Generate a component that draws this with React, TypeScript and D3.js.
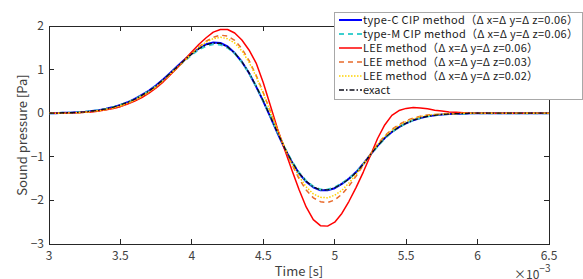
import * as d3 from 'd3'

// time axis in ms (plotted with a x10^-3 multiplier), one sample every 0.05 ms
const timeMs = d3.range(71).map(i => +(3 + i * 0.05).toFixed(2))

const exact = [
  0.00, 0.00, 0.01, 0.01, 0.02, 0.03, 0.05, 0.07, 0.10, 0.14,
  0.19, 0.25, 0.32, 0.41, 0.51, 0.63, 0.77, 0.92, 1.07, 1.22,
  1.36, 1.48, 1.57, 1.61, 1.60, 1.52, 1.38, 1.18, 0.93, 0.62,
  0.28, -0.08, -0.45, -0.80, -1.11, -1.37, -1.56, -1.69, -1.76, -1.76,
  -1.71, -1.62, -1.51, -1.36, -1.17, -0.95, -0.75, -0.57, -0.43, -0.32,
  -0.23, -0.16, -0.11, -0.07, -0.05, -0.03, -0.02, -0.01, -0.01, 0.00,
  0.00, 0.00, 0.00, 0.00, 0.00, 0.00, 0.00, 0.00, 0.00, 0.00, 0.00
]

const typeC = [
  0.00, 0.00, 0.01, 0.01, 0.02, 0.03, 0.05, 0.07, 0.10, 0.14,
  0.19, 0.25, 0.33, 0.42, 0.52, 0.64, 0.78, 0.93, 1.08, 1.23,
  1.37, 1.49, 1.58, 1.62, 1.61, 1.53, 1.38, 1.18, 0.92, 0.61,
  0.27, -0.09, -0.46, -0.81, -1.12, -1.38, -1.57, -1.70, -1.77, -1.77,
  -1.72, -1.62, -1.50, -1.35, -1.16, -0.95, -0.75, -0.57, -0.43, -0.32,
  -0.23, -0.16, -0.11, -0.07, -0.05, -0.03, -0.02, -0.01, -0.01, 0.00,
  0.00, 0.00, 0.00, 0.00, 0.00, 0.00, 0.00, 0.00, 0.00, 0.00, 0.00
]

const typeM = [
  0.00, 0.00, 0.01, 0.01, 0.02, 0.03, 0.05, 0.07, 0.10, 0.14,
  0.19, 0.25, 0.32, 0.41, 0.51, 0.62, 0.76, 0.91, 1.06, 1.20,
  1.34, 1.46, 1.54, 1.58, 1.57, 1.50, 1.37, 1.17, 0.92, 0.62,
  0.28, -0.07, -0.44, -0.79, -1.10, -1.36, -1.55, -1.68, -1.75, -1.75,
  -1.70, -1.61, -1.50, -1.36, -1.17, -0.96, -0.76, -0.58, -0.43, -0.32,
  -0.23, -0.16, -0.11, -0.07, -0.05, -0.03, -0.02, -0.01, -0.01, 0.00,
  0.00, 0.00, 0.00, 0.00, 0.00, 0.00, 0.00, 0.00, 0.00, 0.00, 0.00
]

const lee006 = [
  0.00, 0.00, 0.00, 0.01, 0.01, 0.02, 0.03, 0.05, 0.08, 0.11,
  0.15, 0.21, 0.28, 0.36, 0.46, 0.58, 0.72, 0.88, 1.05, 1.23,
  1.41, 1.58, 1.73, 1.86, 1.92, 1.92, 1.84, 1.68, 1.45, 1.15,
  0.70, 0.17, -0.36, -0.84, -1.30, -1.75, -2.15, -2.44, -2.58, -2.59,
  -2.50, -2.30, -2.02, -1.70, -1.35, -0.97, -0.58, -0.27, -0.05, 0.06,
  0.11, 0.13, 0.12, 0.10, 0.07, 0.05, 0.03, 0.02, 0.01, 0.00,
  0.00, 0.00, 0.00, 0.00, 0.00, 0.00, 0.00, 0.00, 0.00, 0.00, 0.00
]

const lee003 = [
  0.00, 0.00, 0.00, 0.01, 0.01, 0.02, 0.04, 0.06, 0.08, 0.12,
  0.16, 0.22, 0.29, 0.38, 0.48, 0.60, 0.74, 0.89, 1.05, 1.21,
  1.37, 1.52, 1.65, 1.74, 1.79, 1.77, 1.67, 1.48, 1.21, 0.87,
  0.47, 0.04, -0.39, -0.80, -1.17, -1.50, -1.76, -1.94, -2.03, -2.05,
  -1.99, -1.86, -1.67, -1.44, -1.19, -0.94, -0.71, -0.52, -0.37, -0.26,
  -0.17, -0.11, -0.07, -0.04, -0.03, -0.02, -0.01, -0.01, 0.00, 0.00,
  0.00, 0.00, 0.00, 0.00, 0.00, 0.00, 0.00, 0.00, 0.00, 0.00, 0.00
]

const lee002 = [
  0.00, 0.00, 0.00, 0.01, 0.01, 0.02, 0.04, 0.06, 0.09, 0.12,
  0.17, 0.23, 0.30, 0.39, 0.49, 0.61, 0.75, 0.90, 1.06, 1.21,
  1.37, 1.51, 1.63, 1.71, 1.74, 1.71, 1.61, 1.43, 1.17, 0.84,
  0.45, 0.03, -0.39, -0.79, -1.15, -1.45, -1.69, -1.85, -1.93, -1.94,
  -1.88, -1.77, -1.60, -1.40, -1.17, -0.94, -0.72, -0.53, -0.39, -0.28,
  -0.19, -0.13, -0.08, -0.05, -0.03, -0.02, -0.01, -0.01, 0.00, 0.00,
  0.00, 0.00, 0.00, 0.00, 0.00, 0.00, 0.00, 0.00, 0.00, 0.00, 0.00
]

const xTicks = [3, 3.5, 4, 4.5, 5, 5.5, 6, 6.5]
const yTicks = [-3, -2, -1, 0, 1, 2]

const series = [
  { label: 'type-C CIP method（Δ x=Δ y=Δ z=0.06）', values: typeC, color: '#0000ff', width: 2, dash: '', fit: 215 },
  { label: 'type-M CIP method（Δ x=Δ y=Δ z=0.06）', values: typeM, color: '#3ccfcf', width: 2, dash: '5,4', fit: 215 },
  { label: 'LEE method（Δ x=Δ y=Δ z=0.06）', values: lee006, color: '#ff0000', width: 1.5, dash: '', fit: 175 },
  { label: 'LEE method（Δ x=Δ y=Δ z=0.03）', values: lee003, color: '#e8692a', width: 1.5, dash: '5,4', fit: 175 },
  { label: 'LEE method（Δ x=Δ y=Δ z=0.02）', values: lee002, color: '#ffd200', width: 1.5, dash: '1.5,1.5', fit: 175 },
  { label: 'exact', values: exact, color: '#0d0d1a', width: 1.3, dash: '5,2,1.5,2', fit: 0 }
]

const W = 583
const H = 279
const m = { left: 49, right: 549, top: 26, bottom: 244 }
const font = '"Noto Sans CJK JP", "Noto Sans", sans-serif'
const ink = '#262626'

export default function App() {
  const x = d3.scaleLinear([3, 6.5], [m.left, m.right])
  const y = d3.scaleLinear([-3, 2], [m.bottom, m.top])
  const line = d3.line<number>()
    .x((_, i) => x(timeMs[i]))
    .y(d => y(d))

  const legX = 334
  const legY = 12
  const rowH = 14

  return (
    <svg width={W} height={H} style={{ position: 'fixed', left: 0, top: 0, background: '#fff' }}>
      <rect width={W} height={H} fill="#fff" />
      <defs>
        <clipPath id="plot">
          <rect x={m.left} y={m.top} width={m.right - m.left} height={m.bottom - m.top} />
        </clipPath>
      </defs>

      {/* axes box */}
      <rect x={m.left} y={m.top} width={m.right - m.left} height={m.bottom - m.top}
        fill="none" stroke={ink} strokeWidth={1} shapeRendering="crispEdges" />

      {xTicks.map(t => (
        <g key={'x' + t}>
          <line x1={x(t)} x2={x(t)} y1={m.bottom} y2={m.bottom - 5} stroke={ink} shapeRendering="crispEdges" />
          <line x1={x(t)} x2={x(t)} y1={m.top} y2={m.top + 5} stroke={ink} shapeRendering="crispEdges" />
          <text x={x(t)} y={m.bottom + 16} textAnchor="middle" fontFamily={font} fontSize={12} fill="#404040">{t}</text>
        </g>
      ))}
      {yTicks.map(t => (
        <g key={'y' + t}>
          <line x1={m.left} x2={m.left + 5} y1={y(t)} y2={y(t)} stroke={ink} shapeRendering="crispEdges" />
          <line x1={m.right} x2={m.right - 5} y1={y(t)} y2={y(t)} stroke={ink} shapeRendering="crispEdges" />
          <text x={m.left - 5} y={y(t) + 4} textAnchor="end" fontFamily={font} fontSize={12} fill="#404040">
            {t < 0 ? '−' + Math.abs(t) : t}
          </text>
        </g>
      ))}

      <text x={(m.left + m.right) / 2} y={276} textAnchor="middle" fontFamily={font} fontSize={13} fill="#404040">Time [s]</text>
      <text transform={`translate(27,${(m.top + m.bottom) / 2}) rotate(-90)`} textAnchor="middle"
        fontFamily={font} fontSize={13} fill="#404040">Sound pressure [Pa]</text>
      <text x={514} y={279} fontFamily={font} fontSize={12} fill="#404040">
        ×10<tspan dy={-7} fontSize={10}>−3</tspan>
      </text>

      <g clipPath="url(#plot)">
        {series.map(s => (
          <path key={s.label} d={line(s.values) ?? ''} fill="none" stroke={s.color}
            strokeWidth={s.width} strokeDasharray={s.dash || undefined} strokeLinejoin="round" />
        ))}
      </g>

      {/* legend */}
      <rect x={legX} y={legY} width={248} height={87} fill="#fff" stroke="#a8a8a8" strokeWidth={1} shapeRendering="crispEdges" />
      {series.map((s, i) => {
        const cy = legY + 8 + i * rowH
        return (
          <g key={'leg' + i}>
            <line x1={legX + 5} x2={legX + 28} y1={cy} y2={cy} stroke={s.color}
              strokeWidth={s.width} strokeDasharray={s.dash || undefined} />
            <text x={legX + 29} y={cy + 4} fontFamily={font} fontSize={11} fill="#1a1a1a"
              textLength={s.fit || undefined} lengthAdjust={s.fit ? 'spacing' : undefined}>{s.label}</text>
          </g>
        )
      })}
    </svg>
  )
}
